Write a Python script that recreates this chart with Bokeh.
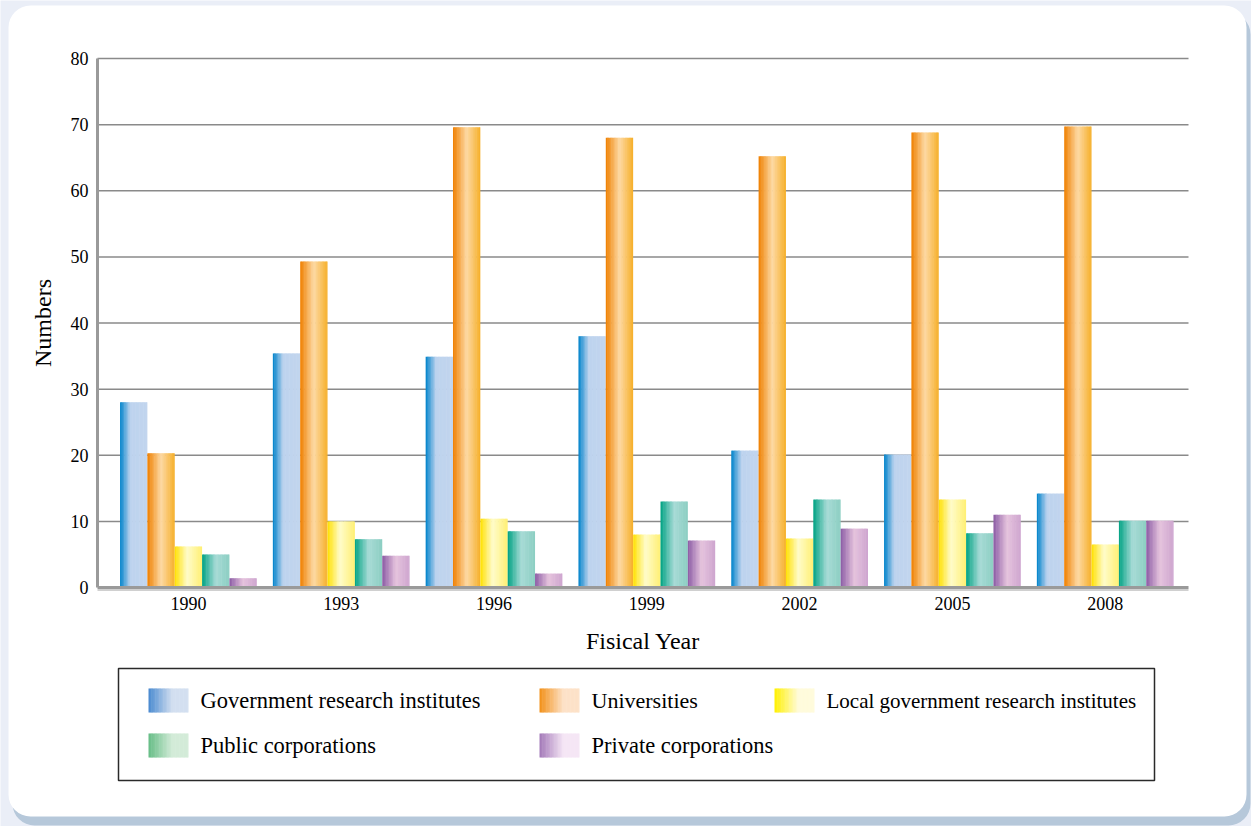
from bokeh.plotting import figure
from bokeh.models import Range1d, FixedTicker, BoxAnnotation, Label
from bokeh.embed import file_html
from bokeh.resources import INLINE

# ---------------- data ----------------
years = ["1990", "1993", "1996", "1999", "2002", "2005", "2008"]
series_names = ["Government research institutes", "Universities",
                "Local government research institutes", "Public corporations",
                "Private corporations"]
gov = [28.0, 35.4, 34.9, 38.0, 20.7, 20.1, 14.2]
univ = [20.3, 49.3, 69.6, 68.0, 65.2, 68.8, 69.7]
local = [6.2, 10.0, 10.4, 8.0, 7.4, 13.3, 6.5]
public = [5.0, 7.3, 8.5, 13.0, 13.3, 8.2, 10.1]
private = [1.4, 4.8, 2.1, 7.1, 8.9, 11.0, 10.1]
y_ticks = [0, 10, 20, 30, 40, 50, 60, 70, 80]

series_values = [gov, univ, local, public, private]

# ---------------- styles ----------------
bar_stops = [
    [(0.0, "#0083cb"), (0.38, "#bdd3ee"), (1.0, "#c2d5ee")],
    [(0.0, "#ef8000"), (0.5, "#fdd9a4"), (1.0, "#f6af28")],
    [(0.0, "#ffe000"), (0.45, "#fffcca"), (1.0, "#ffef72")],
    [(0.0, "#00a283"), (0.5, "#a7dbd6"), (1.0, "#8ccec2")],
    [(0.0, "#8c5ca5"), (0.5, "#e5c3dd"), (1.0, "#cea5cf")],
]
legend_stops = [
    [(0.0, "#4a8ad0"), (0.6, "#d3dff0"), (1.0, "#d3dff0")],
    [(0.0, "#f29018"), (0.6, "#fde2c8"), (1.0, "#fde2c8")],
    [(0.0, "#fff000"), (0.6, "#fffbdc"), (1.0, "#fffbdc")],
    [(0.0, "#66bd86"), (0.6, "#d3ebd8"), (1.0, "#d3ebd8")],
    [(0.0, "#a379b8"), (0.6, "#f5e6f5"), (1.0, "#f5e6f5")],
]
legend_font_sizes = ["22.5px", "22px", "21px", "22.5px", "22.5px"]
FONT = "Liberation Serif"


def hex2rgb(h):
    h = h.lstrip("#")
    return tuple(int(h[i:i + 2], 16) for i in (0, 2, 4))


def interp(stops, t):
    for (p0, c0), (p1, c1) in zip(stops[:-1], stops[1:]):
        if p0 <= t <= p1:
            f = 0 if p1 == p0 else (t - p0) / (p1 - p0)
            a, b = hex2rgb(c0), hex2rgb(c1)
            return "#%02x%02x%02x" % tuple(int(round(a[k] + (b[k] - a[k]) * f)) for k in range(3))
    return stops[-1][1]


# ---------------- layout ----------------
W, H = 1251, 826
PL, PR, PT, PB = 97, 1188, 58, 587          # plot area in pixels
XMIN, XMAX = -0.595, len(years) - 1 + 0.545  # data extent of plot area
YMIN, YMAX = 0, 80
sxp = (PR - PL) / (XMAX - XMIN)
syp = (PB - PT) / (YMAX - YMIN)
x_range = Range1d(XMIN - PL / sxp, XMAX + (W - PR) / sxp)
y_range = Range1d(YMIN - (H - PB) / syp, YMAX + PT / syp)

p = figure(width=W, height=H, output_backend="svg", toolbar_location=None,
           x_range=x_range, y_range=y_range,
           min_border=0, min_border_left=0, min_border_right=0,
           min_border_top=0, min_border_bottom=0)
p.title.visible = False
p.border_fill_color = "#eaeef7"
p.background_fill_color = "#eaeef7"
p.outline_line_color = None
p.xgrid.visible = False
p.ygrid.visible = False


def canvas_box(**kw):
    return BoxAnnotation(left_units="canvas", right_units="canvas",
                         top_units="canvas", bottom_units="canvas",
                         editable=False, **kw)


# panel with shadow
p.add_layout(canvas_box(left=12, right=1250, top=12, bottom=825,
                        fill_color="#b6c8da", fill_alpha=1, line_color=None,
                        border_radius=22, level="image"))
p.add_layout(canvas_box(left=8, right=1246, top=5, bottom=816,
                        fill_color="white", fill_alpha=1, line_color=None,
                        border_radius=22, level="image"))

# horizontal grid lines across the plot area
gy = y_ticks[1:]
p.segment(x0=[XMIN] * len(gy), x1=[XMAX] * len(gy), y0=gy, y1=gy,
          line_color="#8a8a8a", line_width=1.5)
# light shadow under the x axis
p.segment(x0=[XMIN], x1=[XMAX], y0=[YMIN - 2.5 / syp], y1=[YMIN - 2.5 / syp],
          line_color="#d0d0d0", line_width=2)

# bars with gradient strips
n_series = len(series_values)
bw = 0.179
NS = 20
for si, vals in enumerate(series_values):
    lefts, rights, tops, colors = [], [], [], []
    for ci, v in enumerate(vals):
        x0 = ci + (si - (n_series - 1) / 2) * bw - bw / 2
        d = bw / NS
        for k in range(NS):
            lefts.append(x0 + k * d)
            rights.append(x0 + (k + 1) * d + (0.4 * d if k < NS - 1 else 0))
            tops.append(v)
            colors.append(interp(bar_stops[si], (k + 0.5) / NS))
    p.quad(left=lefts, right=rights, bottom=0, top=tops,
           fill_color=colors, line_color=None)

# axes (drawn at fixed locations inside the full-canvas frame)
xa, ya = p.xaxis[0], p.yaxis[0]
ya.fixed_location = XMIN
ya.bounds = (YMIN, YMAX)
xa.fixed_location = YMIN
xa.bounds = (XMIN, XMAX)
ya.ticker = FixedTicker(ticks=y_ticks)
xa.ticker = FixedTicker(ticks=list(range(len(years))))
xa.major_label_overrides = {i: y for i, y in enumerate(years)}
for ax in (xa, ya):
    ax.axis_line_color = "#9a9a9a"
    ax.axis_line_width = 3
    ax.major_tick_line_color = None
    ax.minor_tick_line_color = None
    ax.major_tick_out = 0
    ax.major_tick_in = 0
    ax.minor_tick_out = 0
    ax.minor_tick_in = 0
    ax.major_label_text_font = FONT
    ax.major_label_text_font_size = "18px"
    ax.major_label_text_color = "black"
    ax.axis_label_text_font = FONT
    ax.axis_label_text_font_size = "24px"
    ax.axis_label_text_font_style = "normal"
    ax.axis_label_text_color = "black"
xa.axis_label = "Fisical Year"
ya.axis_label = "Numbers"
xa.major_label_standoff = 9
ya.major_label_standoff = 9
xa.axis_label_standoff = 15
ya.axis_label_standoff = 12

# legend (manual, canvas units)
p.add_layout(canvas_box(left=118, right=1154, top=668, bottom=780,
                        fill_color="white", fill_alpha=1,
                        line_color="#2a2a2a", line_alpha=1, line_width=1.5))
swatch_pos = [(148, 688), (539, 688), (774, 688), (148, 733), (539, 733)]
NL = 30
for si, name in enumerate(series_names):
    sx, sy = swatch_pos[si]
    sw = 40.0 / NL
    for k in range(NL):
        p.add_layout(canvas_box(left=sx + k * sw,
                                right=sx + (k + 1) * sw + (0.5 if k < NL - 1 else 0),
                                top=sy, bottom=sy + 24,
                                fill_color=interp(legend_stops[si], (k + 0.5) / NL),
                                fill_alpha=1, line_color=None))
    p.add_layout(Label(x=sx + 52, y=sy + 12, x_units="canvas", y_units="canvas",
                       text=name, text_font=FONT, text_font_size=legend_font_sizes[si],
                       text_baseline="middle", text_align="left", text_color="black"))

open("out.html", "w").write(file_html(p, INLINE))
